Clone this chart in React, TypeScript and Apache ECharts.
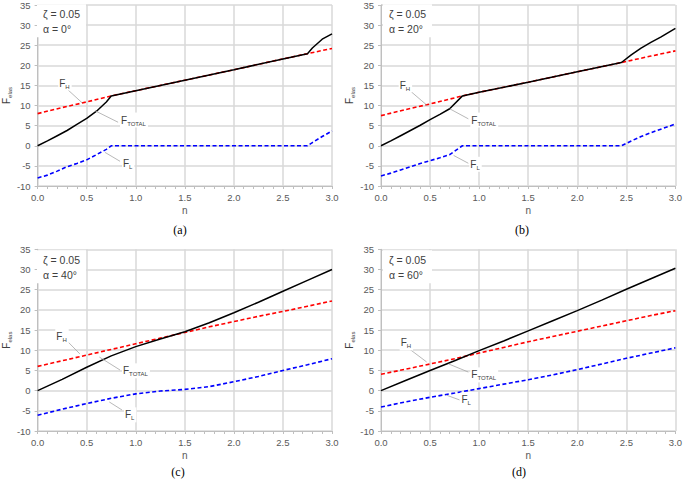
import React, { useEffect, useRef } from 'react';
import * as echarts from 'echarts';

// ---------- Data ----------
// Panel (a): alpha = 0°
const aTotalN = [0, 0.1, 0.2, 0.3, 0.4, 0.5, 0.6, 0.7, 0.75, 1.0, 1.5, 2.0, 2.5, 2.75, 2.8, 2.9, 3.0];
const aTotal = [0, 1.2, 2.5, 3.8, 5.3, 6.8, 8.6, 10.9, 12.4, 13.7, 16.3, 18.9, 21.6, 22.9, 24.3, 26.5, 27.8];
const aHN = [0, 0.25, 0.5, 0.75, 1.0, 1.5, 2.0, 2.5, 2.75, 3.0];
const aH = [8.0, 9.5, 10.9, 12.4, 13.7, 16.3, 18.9, 21.6, 22.9, 24.2];
const aLN = [0, 0.1, 0.2, 0.3, 0.4, 0.5, 0.6, 0.7, 0.75, 1.0, 1.5, 2.0, 2.5, 2.75, 2.8, 2.9, 3.0];
const aL = [-8.0, -7.3, -6.3, -5.2, -4.4, -3.5, -2.2, -0.9, 0, 0, 0, 0, 0, 0, 0.8, 2.3, 3.7];

// Panel (b): alpha = 20°
const bTotalN = [0, 0.1, 0.2, 0.3, 0.4, 0.5, 0.6, 0.7, 0.83, 1.0, 1.5, 2.0, 2.45, 2.55, 2.65, 2.75, 2.85, 3.0];
const bTotal = [0, 1.2, 2.5, 3.8, 5.1, 6.5, 7.8, 9.2, 12.4, 13.3, 15.8, 18.4, 20.7, 22.6, 24.3, 25.7, 27.0, 29.2];
const bHN = [0, 0.25, 0.5, 0.83, 1.0, 1.5, 2.0, 2.45, 2.75, 3.0];
const bH = [7.5, 9.0, 10.4, 12.4, 13.3, 15.8, 18.4, 20.7, 22.3, 23.6];
const bLN = [0, 0.1, 0.2, 0.3, 0.4, 0.5, 0.6, 0.7, 0.83, 1.0, 1.5, 2.0, 2.45, 2.55, 2.65, 2.8, 3.0];
const bL = [-7.5, -6.8, -6.0, -5.2, -4.4, -3.7, -3.0, -2.2, 0, 0, 0, 0, 0, 1.2, 2.3, 3.7, 5.4];

// Panel (c): alpha = 40°
const cN = [0, 0.25, 0.5, 0.75, 1.0, 1.25, 1.5, 1.75, 2.0, 2.25, 2.5, 2.75, 3.0];
const cTotal = [0, 2.8, 5.8, 8.6, 10.9, 12.8, 14.6, 16.8, 19.3, 21.9, 24.6, 27.3, 30.0];
const cH = [6.0, 7.4, 8.8, 10.2, 11.6, 13.0, 14.4, 15.8, 17.1, 18.4, 19.6, 20.9, 22.2];
const cL = [-6.1, -4.6, -3.2, -1.9, -0.8, -0.1, 0.3, 1.0, 2.2, 3.5, 5.0, 6.4, 7.9];

// Panel (d): alpha = 60°
const dN = [0, 0.25, 0.5, 0.75, 1.0, 1.25, 1.5, 1.75, 2.0, 2.25, 2.5, 2.75, 3.0];
const dTotal = [0, 2.5, 5.0, 7.4, 9.9, 12.3, 14.8, 17.3, 19.8, 22.4, 25.1, 27.7, 30.3];
const dH = [4.05, 5.3, 6.6, 7.9, 9.3, 10.7, 12.1, 13.4, 14.7, 16.0, 17.3, 18.6, 19.8];
const dL = [-4.05, -2.8, -1.65, -0.6, 0.5, 1.6, 2.7, 3.9, 5.2, 6.6, 8.0, 9.3, 10.6];

const captions = ['(a)', '(b)', '(c)', '(d)'];
const alphas = ['α = 0°', 'α = 20°', 'α = 40°', 'α = 60°'];
const zetaText = 'ζ = 0.05';
const yTicks = { min: -10, max: 35, interval: 5 };
const xTicks = { min: 0, max: 3, interval: 0.5 };

// ---------- Layout / style ----------
const FONT = "'Liberation Sans', Arial, sans-serif";
const TXT = '#404040';
const grids = [
  { left: 35, top: 3.3, width: 297, height: 182.7 },
  { left: 381, top: 3.3, width: 297, height: 182.7 },
  { left: 35, top: 249.3, width: 297, height: 181.7 },
  { left: 381, top: 249.3, width: 297, height: 181.7 },
];
const captionX = [180, 522, 178, 519];
const captionY = [230, 230, 472, 472];

// annotation placement in data coordinates: [text, leaderStart, leaderEnd]
const annots: Array<Record<string, number[][]>> = [
  { H: [[0.21, 15.6], [0.30, 14.1], [0.455, 10.65]], T: [[0.84, 6.4], [0.586, 8.7], [0.82, 5.85]], L: [[0.86, -4.35], [0.687, -1.65], [0.84, -3.86]] },
  { H: [[0.18, 15.1], [0.29, 13.8], [0.465, 10.15]], T: [[0.91, 6.4], [0.70, 9.2], [0.89, 6.7]], L: [[0.90, -4.6], [0.74, -2.4], [0.89, -4.35]] },
  { H: [[0.18, 13.5], [0.30, 12.3], [0.43, 9.1]], T: [[0.86, 4.9], [0.63, 8.3], [0.84, 5.1]], L: [[0.88, -6.0], [0.73, -2.8], [0.86, -4.8]] },
  { H: [[0.19, 11.8], [0.29, 10.3], [0.465, 7.1]], T: [[0.91, 3.9], [0.69, 6.6], [0.89, 4.6]], L: [[0.81, -2.3], [0.67, -1.15], [0.80, -2.3]] },
];
const subText: Record<string, string> = { H: 'H', T: 'TOTAL', L: 'L' };

const pairs = (ns: number[], vs: number[]) => ns.map((n, i) => [n, vs[i]]);

export default function App() {
  const ref = useRef<HTMLDivElement>(null);
  useEffect(() => {
    const chart = echarts.init(ref.current!, null, { renderer: 'svg', width: 685, height: 484 });
    const panelData = [
      { H: pairs(aHN, aH), L: pairs(aLN, aL), T: pairs(aTotalN, aTotal) },
      { H: pairs(bHN, bH), L: pairs(bLN, bL), T: pairs(bTotalN, bTotal) },
      { H: pairs(cN, cH), L: pairs(cN, cL), T: pairs(cN, cTotal) },
      { H: pairs(dN, dH), L: pairs(dN, dL), T: pairs(dN, dTotal) },
    ];
    const gridLine = { show: true, lineStyle: { color: '#d9d9d9', width: 1.5 } };
    const xAxis = grids.map((_, i) => ({
      type: 'value', gridIndex: i, min: xTicks.min, max: xTicks.max, interval: xTicks.interval,
      axisLine: { show: true, onZero: false, lineStyle: { color: '#bfbfbf', width: 1 } },
      axisTick: { show: true, length: 3, lineStyle: { color: '#bfbfbf' } },
      minorTick: { show: true, splitNumber: 5, length: 3, lineStyle: { color: '#bfbfbf' } },
      splitLine: gridLine,
      axisLabel: { fontSize: 9.5, color: '#595959', fontFamily: FONT, margin: 6, formatter: (v: number) => v.toFixed(1) },
      name: 'n', nameLocation: 'middle', nameGap: 19,
      nameTextStyle: { fontSize: 10, color: '#595959', fontFamily: FONT },
    }));
    const yAxis = grids.map((_, i) => ({
      type: 'value', gridIndex: i, min: yTicks.min, max: yTicks.max, interval: yTicks.interval,
      axisLine: { show: true, onZero: false, lineStyle: { color: '#bfbfbf', width: 1 } },
      axisTick: { show: true, length: 3, lineStyle: { color: '#bfbfbf' } },
      splitLine: gridLine,
      axisLabel: { fontSize: 9.5, color: '#595959', fontFamily: FONT, margin: 7 },
      name: '{f|F}{s|elas}', nameLocation: 'middle', nameGap: 20, nameRotate: 90,
      nameTextStyle: {
        rich: {
          f: { fontSize: 10, color: '#404040', fontFamily: FONT, lineHeight: 14 },
          s: { fontSize: 6, color: '#404040', fontFamily: FONT, lineHeight: 8, verticalAlign: 'bottom' },
        },
      },
    }));
    const series: any[] = [];
    panelData.forEach((p, i) => {
      series.push({ type: 'line', xAxisIndex: i, yAxisIndex: i, data: p.H, showSymbol: false, lineStyle: { color: '#ff0000', width: 1.6, type: [4, 2.5] }, z: 3 });
      series.push({ type: 'line', xAxisIndex: i, yAxisIndex: i, data: p.L, showSymbol: false, lineStyle: { color: '#0000ff', width: 1.6, type: [4, 2.5] }, z: 3 });
      series.push({ type: 'line', xAxisIndex: i, yAxisIndex: i, data: p.T, showSymbol: false, lineStyle: { color: '#000000', width: 1.5 }, z: 4 });
    });
    chart.setOption({
      animation: false,
      backgroundColor: '#ffffff',
      grid: grids.map((g) => ({ ...g, containLabel: false })),
      xAxis, yAxis, series,
    });

    const graphic: any[] = [];
    grids.forEach((g, i) => {
      graphic.push({ type: 'rect', z: 50, shape: { x: g.left + 2, y: g.top + 1, width: 49, height: 33 }, style: { fill: '#ffffff' } });
      graphic.push({ type: 'text', z: 51, x: g.left + 8, y: g.top + 11, style: { text: zetaText, fontSize: 10.5, fontFamily: FONT, fill: TXT, verticalAlign: 'middle' } });
      graphic.push({ type: 'text', z: 51, x: g.left + 8, y: g.top + 26, style: { text: alphas[i], fontSize: 10.5, fontFamily: FONT, fill: TXT, verticalAlign: 'middle' } });
      graphic.push({ type: 'text', z: 51, x: captionX[i], y: captionY[i], style: { text: captions[i], fontSize: 12, fontFamily: "'Liberation Serif', 'Times New Roman', serif", fill: '#000', align: 'center', verticalAlign: 'middle' } });
      const a = annots[i];
      Object.keys(a).forEach((k) => {
        const [tp, l1, l2] = a[k];
        const t = chart.convertToPixel({ gridIndex: i } as any, tp) as number[];
        const p1 = chart.convertToPixel({ gridIndex: i } as any, l1) as number[];
        const p2 = chart.convertToPixel({ gridIndex: i } as any, l2) as number[];
        graphic.push({ type: 'line', z: 52, shape: { x1: p1[0], y1: p1[1], x2: p2[0], y2: p2[1] }, style: { stroke: '#a6a6a6', lineWidth: 0.8 } });
        graphic.push({
          type: 'text', z: 53, x: t[0], y: t[1],
          style: {
            text: `{f|F}{s|${subText[k]}}`,
            verticalAlign: 'middle', align: 'left',
            backgroundColor: '#ffffff', padding: [1, 2, 1, 1],
            rich: {
              f: { fontSize: 10, fill: TXT, fontFamily: FONT, lineHeight: 13 },
              s: { fontSize: 6, fill: TXT, fontFamily: FONT, lineHeight: 8, verticalAlign: 'bottom' },
            },
          },
        });
      });
    });
    chart.setOption({ graphic });
    return () => chart.dispose();
  }, []);
  return <div ref={ref} style={{ position: 'absolute', left: 0, top: 0, width: 685, height: 484 }} />;
}
